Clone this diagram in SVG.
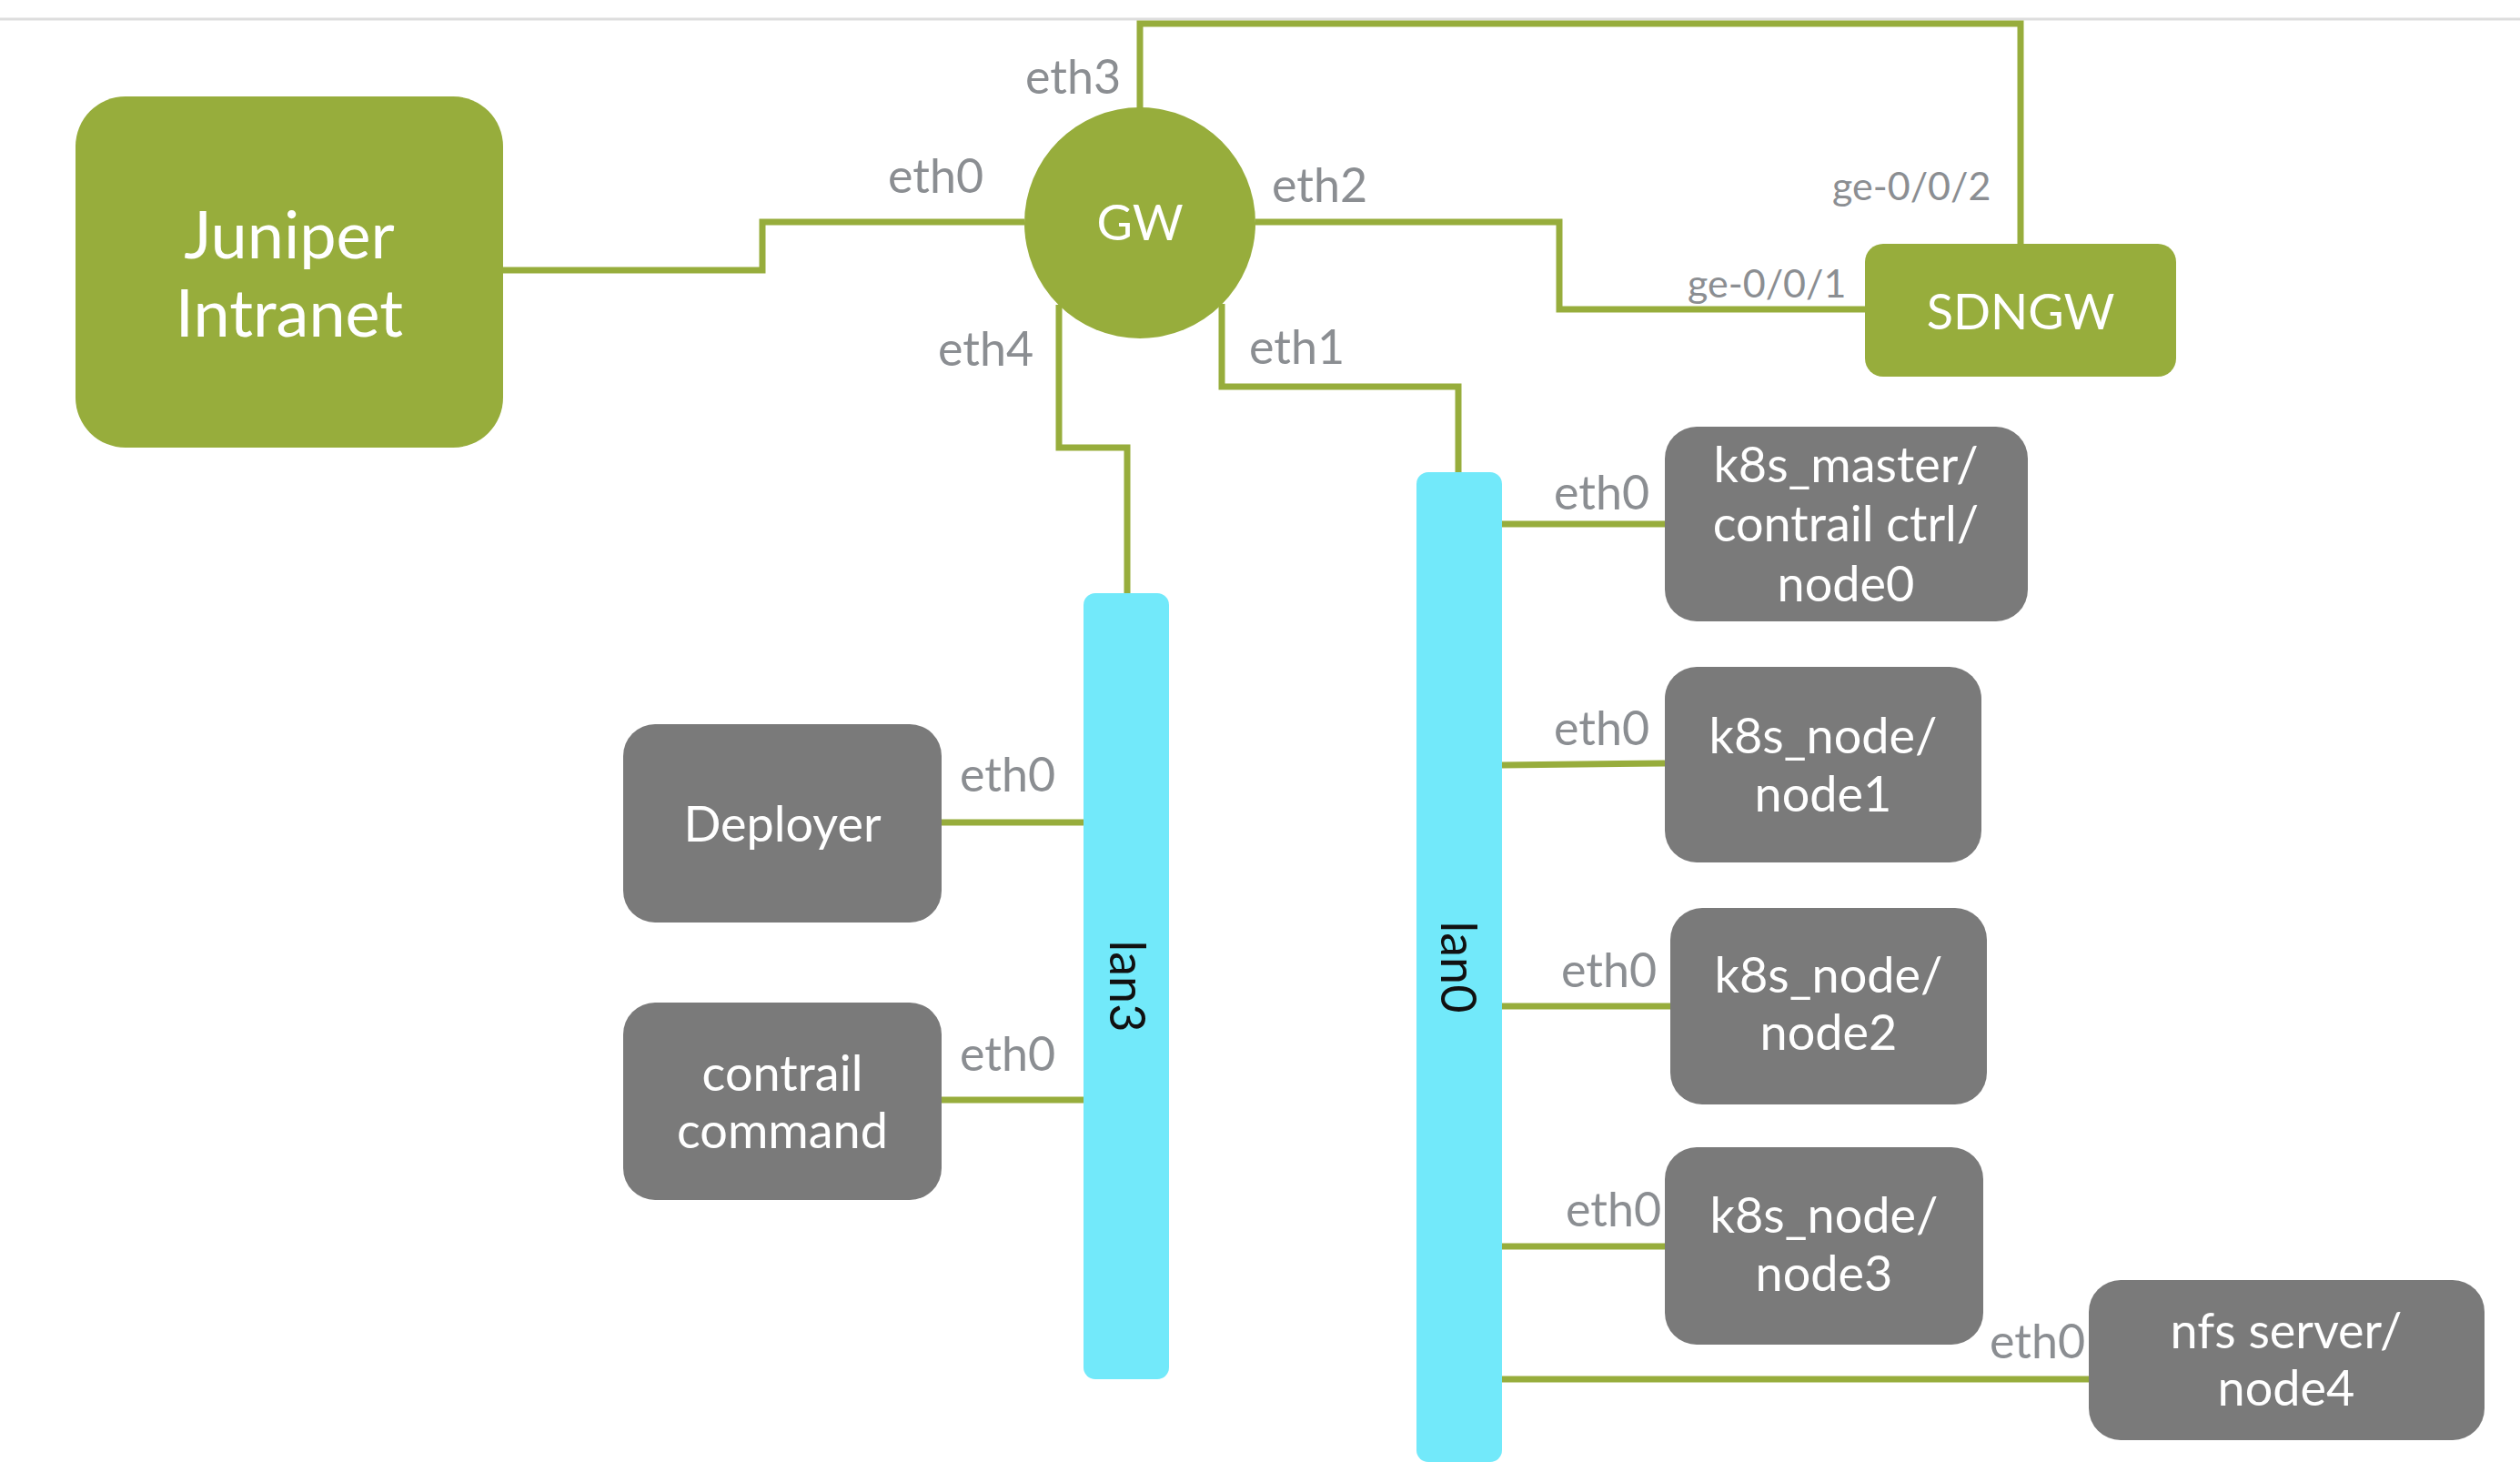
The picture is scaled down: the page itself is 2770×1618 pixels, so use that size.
<svg xmlns="http://www.w3.org/2000/svg" width="2770" height="1618" viewBox="0 0 2770 1618">
<style>
.green{fill:#97ad3c}
.gray{fill:#7a7a7a}
.lan{fill:#72e9fa}
.wt{fill:#ffffff;font-family:Lato,"Liberation Sans",sans-serif;text-anchor:middle}
.lbl{fill:#8b8e92;font-family:Lato,"Liberation Sans",sans-serif;font-size:52px}
.ge{fill:#8b8e92;font-family:Lato,"Liberation Sans",sans-serif;font-size:43px}
.lt{fill:#111111;font-family:Lato,"Liberation Sans",sans-serif;font-size:54px;text-anchor:middle}
.conn{fill:none;stroke:#97ad3c;stroke-width:7;stroke-linejoin:miter;stroke-linecap:butt}
</style>
<rect width="2770" height="1618" fill="#ffffff"/>
<line x1="0" y1="21" x2="2770" y2="21" stroke="#dddddd" stroke-width="3"/>
<g id="connectors">
<polyline class="conn" points="553,297 838,297 838,244 1126,244"/>
<polyline class="conn" points="1253,123 1253,26 2221,26 2221,268"/>
<polyline class="conn" points="1380,244 1714,244 1714,340 2050,340"/>
<polyline class="conn" points="1343,334 1343,425 1603,425 1603,519"/>
<polyline class="conn" points="1164,335 1164,492 1239,492 1239,652"/>
<line class="conn" x1="1035" y1="904" x2="1191" y2="904"/>
<line class="conn" x1="1035" y1="1209" x2="1191" y2="1209"/>
<line class="conn" x1="1651" y1="576" x2="1830" y2="576"/>
<line class="conn" x1="1651" y1="841" x2="1830" y2="839"/>
<line class="conn" x1="1651" y1="1106" x2="1836" y2="1106"/>
<line class="conn" x1="1651" y1="1370" x2="1830" y2="1370"/>
<line class="conn" x1="1651" y1="1516" x2="2296" y2="1516"/>
</g>
<g id="labels">
<text class="lbl" x="976" y="212">eth0</text>
<text class="lbl" x="1127" y="103">eth3</text>
<text class="lbl" x="1398" y="222">eth2</text>
<text class="lbl" x="1373" y="400">eth1</text>
<text class="lbl" x="1031" y="402">eth4</text>
<text class="ge" x="2014" y="220">ge-0/0/2</text>
<text class="ge" x="1855" y="327">ge-0/0/1</text>
<text class="lbl" x="1055" y="870">eth0</text>
<text class="lbl" x="1055" y="1177">eth0</text>
<text class="lbl" x="1708" y="560">eth0</text>
<text class="lbl" x="1708" y="819">eth0</text>
<text class="lbl" x="1716" y="1085">eth0</text>
<text class="lbl" x="1721" y="1348">eth0</text>
<text class="lbl" x="2187" y="1493">eth0</text>
</g>
<g id="juniper">
<rect class="green" x="83" y="106" width="470" height="386" rx="55"/>
<text class="wt" x="318" y="284" font-size="72">Juniper</text>
<text class="wt" x="318" y="370" font-size="72">Intranet</text>
</g>
<g id="gw">
<circle class="green" cx="1253" cy="245" r="127"/>
<text class="wt" x="1253" y="264" font-size="54">GW</text>
</g>
<g id="sdngw">
<rect class="green" x="2050" y="268" width="342" height="146" rx="20"/>
<text class="wt" x="2221" y="362" font-size="54">SDNGW</text>
</g>
<g id="lan3">
<rect class="lan" x="1191" y="652" width="94" height="864" rx="13"/>
<text class="lt" transform="translate(1220,1084) rotate(90)">lan3</text>
</g>
<g id="lan0">
<rect class="lan" x="1557" y="519" width="94" height="1088" rx="13"/>
<text class="lt" transform="translate(1584,1063) rotate(90)">lan0</text>
</g>
<g id="deployer">
<rect class="gray" x="685" y="796" width="350" height="218" rx="35"/>
<text class="wt" x="860" y="925" font-size="54">Deployer</text>
</g>
<g id="contrail_command">
<rect class="gray" x="685" y="1102" width="350" height="217" rx="35"/>
<text class="wt" x="860" y="1199" font-size="54">contrail</text>
<text class="wt" x="860" y="1262" font-size="54">command</text>
</g>
<g id="node0">
<rect class="gray" x="1830" y="469" width="399" height="214" rx="35"/>
<text class="wt" x="2029" y="530" font-size="54">k8s_master/</text>
<text class="wt" x="2029" y="595" font-size="54">contrail ctrl/</text>
<text class="wt" x="2029" y="661" font-size="54">node0</text>
</g>
<g id="node1">
<rect class="gray" x="1830" y="733" width="348" height="215" rx="35"/>
<text class="wt" x="2004" y="828" font-size="54">k8s_node/</text>
<text class="wt" x="2004" y="892" font-size="54">node1</text>
</g>
<g id="node2">
<rect class="gray" x="1836" y="998" width="348" height="216" rx="35"/>
<text class="wt" x="2010" y="1091" font-size="54">k8s_node/</text>
<text class="wt" x="2010" y="1154" font-size="54">node2</text>
</g>
<g id="node3">
<rect class="gray" x="1830" y="1261" width="350" height="217" rx="35"/>
<text class="wt" x="2005" y="1355" font-size="54">k8s_node/</text>
<text class="wt" x="2005" y="1419" font-size="54">node3</text>
</g>
<g id="node4">
<rect class="gray" x="2296" y="1407" width="435" height="176" rx="35"/>
<text class="wt" x="2513" y="1482" font-size="54">nfs server/</text>
<text class="wt" x="2513" y="1545" font-size="54">node4</text>
</g>
</svg>
